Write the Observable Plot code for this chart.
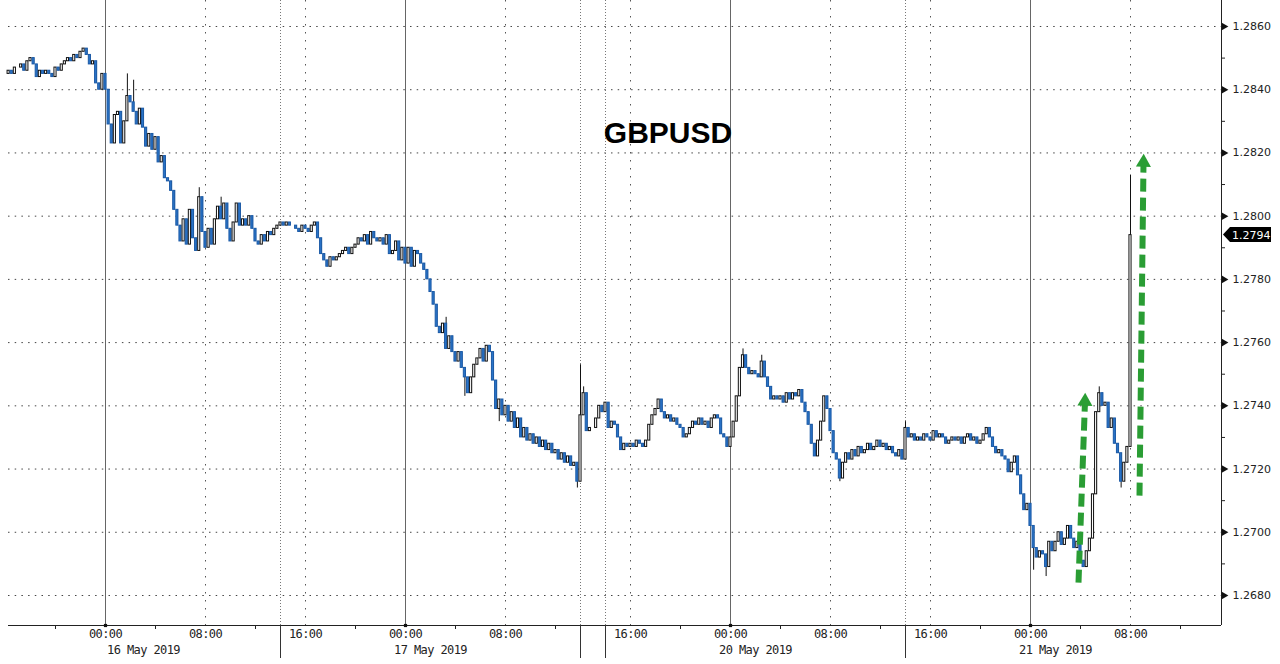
<!DOCTYPE html>
<html><head><meta charset="utf-8">
<script src="https://cdn.jsdelivr.net/npm/d3@7"></script>
<script src="https://cdn.jsdelivr.net/npm/@observablehq/plot@0.6"></script>
<style>
html,body{margin:0;padding:0;background:#fff;overflow:hidden;}
#chart svg g[font-family="DejaVu Sans Mono"] text{letter-spacing:-0.6px;}
</style></head><body><div id="chart"></div>
<script>
// ---- data (compressed trading-hour axis: 0 = 16 May 2019 00:00, weekend removed) ----
const title = "GBPUSD";
const firstBarHour = -7.75;   // first 15-minute bar
const barHours = 0.25;        // 15-minute bars
const firstOpen = 1.2845;
const closes = [
  1.2846, 1.2845, 1.2847,
  1.2847, 1.2848, 1.2846, 1.2849,
  1.2850, 1.2848, 1.2844, 1.2846,
  1.2845, 1.2846, 1.2845, 1.2844,
  1.2847, 1.2846, 1.2848, 1.2849,
  1.2850, 1.2849, 1.2851, 1.2850,
  1.2852, 1.2853, 1.2851, 1.2848,
  1.2849, 1.2842, 1.2840, 1.2845,
  1.2840, 1.2829, 1.2823, 1.2832,
  1.2833, 1.2823, 1.2830, 1.2838,
  1.2836, 1.2833, 1.2829, 1.2834,
  1.2828, 1.2822, 1.2826, 1.2821,
  1.2825, 1.2817, 1.2819, 1.2812,
  1.2811, 1.2808, 1.2802, 1.2797,
  1.2792, 1.2799, 1.2791, 1.2802,
  1.2793, 1.2789, 1.2806, 1.2795,
  1.2790, 1.2796, 1.2791, 1.2799,
  1.2803, 1.2799, 1.2804, 1.2796,
  1.2792, 1.2798, 1.2804, 1.2797,
  1.2799, 1.2797, 1.2800, 1.2796,
  1.2792, 1.2791, 1.2794, 1.2792,
  1.2795, 1.2794, 1.2796, 1.2797,
  1.2798, 1.2797, 1.2798, 1.2797,
  1.2797, 1.2796, 1.2795, 1.2797,
  1.2796, 1.2795, 1.2797, 1.2798,
  1.2793, 1.2788, 1.2786, 1.2784,
  1.2787, 1.2786, 1.2787, 1.2788,
  1.2789, 1.2790, 1.2788, 1.2790,
  1.2791, 1.2793, 1.2792, 1.2794,
  1.2791, 1.2795, 1.2793, 1.2792,
  1.2793, 1.2791, 1.2794, 1.2788,
  1.2789, 1.2792, 1.2786, 1.2790,
  1.2785, 1.2790, 1.2784, 1.2789,
  1.2788, 1.2785, 1.2783, 1.2780,
  1.2776, 1.2772, 1.2765, 1.2763,
  1.2766, 1.2758, 1.2762, 1.2757,
  1.2754, 1.2757, 1.2752, 1.2749,
  1.2744, 1.2749, 1.2753, 1.2755,
  1.2758, 1.2754, 1.2759, 1.2757,
  1.2748, 1.2739, 1.2742, 1.2737,
  1.2740, 1.2735, 1.2738, 1.2733,
  1.2736, 1.2730, 1.2733, 1.2729,
  1.2731, 1.2728, 1.2730, 1.2727,
  1.2729, 1.2726, 1.2728, 1.2725,
  1.2726, 1.2723, 1.2725, 1.2722,
  1.2724, 1.2721, 1.2722, 1.2716,
  1.2737, 1.2744, 1.2732, 1.2733,
  1.2733, 1.2736, 1.2740, 1.2738,
  1.2741, 1.2733, 1.2735, 1.2734,
  1.2730, 1.2726, 1.2728, 1.2727,
  1.2728, 1.2727, 1.2729, 1.2728,
  1.2727, 1.2729, 1.2734, 1.2737,
  1.2739, 1.2742, 1.2738, 1.2736,
  1.2737, 1.2735, 1.2736, 1.2734,
  1.2733, 1.2730, 1.2731, 1.2733,
  1.2735, 1.2734, 1.2736, 1.2734,
  1.2735, 1.2733, 1.2736, 1.2737,
  1.2736, 1.2731, 1.2730, 1.2727,
  1.2730, 1.2735, 1.2743, 1.2752,
  1.2756, 1.2752, 1.2750, 1.2751,
  1.2750, 1.2749, 1.2754, 1.2749,
  1.2746, 1.2742, 1.2743, 1.2742,
  1.2743, 1.2741, 1.2744, 1.2742,
  1.2744, 1.2743, 1.2745, 1.2741,
  1.2738, 1.2734, 1.2728, 1.2724,
  1.2729, 1.2735, 1.2743, 1.2739,
  1.2732, 1.2725, 1.2723, 1.2717,
  1.2722, 1.2725, 1.2723, 1.2726,
  1.2724, 1.2727, 1.2725, 1.2726,
  1.2728, 1.2726, 1.2727, 1.2729,
  1.2727, 1.2728, 1.2726, 1.2727,
  1.2725, 1.2724, 1.2726, 1.2723,
  1.2733, 1.2730, 1.2731, 1.2729,
  1.2730, 1.2729, 1.2731, 1.2730,
  1.2729, 1.2732, 1.2730, 1.2731,
  1.2730, 1.2728, 1.2729, 1.2730,
  1.2729, 1.2730, 1.2728, 1.2730,
  1.2731, 1.2729, 1.2730, 1.2728,
  1.2729, 1.2731, 1.2733, 1.2730,
  1.2727, 1.2725, 1.2726, 1.2724,
  1.2723, 1.2719, 1.2722, 1.2724,
  1.2718, 1.2712, 1.2707, 1.2709,
  1.2702, 1.2695, 1.2692, 1.2694,
  1.2693, 1.2689, 1.2697, 1.2694,
  1.2697, 1.2700, 1.2696, 1.2698,
  1.2702, 1.2698, 1.2695, 1.2697,
  1.2691, 1.2689, 1.2694, 1.2698,
  1.2712, 1.2738, 1.2744, 1.2740,
  1.2741, 1.2733, 1.2736, 1.2728,
  1.2725, 1.2716, 1.2722, 1.2727,
  1.2794
];
const spikeHours  = [1.75, 2.25, 7.5, 9.25, 27.25, 28.75, 31.5, 37.75, 38, 38.25, 51, 52.5, 58.75, 64, 74.25, 75.25, 79.5, 81.25, 82];
const spikeValues = [1.2845, 1.2843, 1.2809, 1.2806, 1.2768, 1.2743, 1.2735, 1.2714, 1.2753, 1.2746, 1.2758, 1.2756, 1.2716, 1.2735, 1.2688, 1.2686, 1.2746, 1.2714, 1.2813];

const priceTicks = [1.2680, 1.2700, 1.2720, 1.2740, 1.2760, 1.2780, 1.2800, 1.2820, 1.2840, 1.2860];
const priceMinorTicks = [1.2690, 1.2710, 1.2730, 1.2750, 1.2770, 1.2790, 1.2810, 1.2830, 1.2850];
const hourTicks = [0, 8, 16, 24, 32, 42, 50, 58, 66, 74, 82];
const hourTickLabels = ["00:00", "08:00", "16:00", "00:00", "08:00", "16:00", "00:00", "08:00", "16:00", "00:00", "08:00"];
const dayHours = [0, 24, 50, 74];
const dayLabels = ["16 May 2019", "17 May 2019", "20 May 2019", "21 May 2019"];
const minorHourTicks = [-4, 4, 12, 20, 28, 36, 46, 54, 62, 70, 78, 86];
const sessionBreakHours = [14, 38, 40, 64];

const arrowFromHour  = [77.84, 82.72];
const arrowFromPrice = [1.26841, 1.27116];
const arrowToHour    = [78.36, 83.04];
const arrowToPrice   = [1.27414, 1.28170];

// ---- build tables ----
const bars = closes.map((c, i) => {
  const h = firstBarHour + i * barHours;
  const o = i === 0 ? firstOpen : closes[i - 1];
  let hi = Math.max(o, c), lo = Math.min(o, c);
  const k = spikeHours.indexOf(h);
  if (k >= 0) { hi = Math.max(hi, spikeValues[k]); lo = Math.min(lo, spikeValues[k]); }
  return {h, o, c, hi, lo, up: c >= o};
});
const lastPrice = closes[closes.length - 1];
const hourTickData = hourTicks.map((h, i) => ({h, label: hourTickLabels[i]}));
const dayData = dayHours.map((h, i) => ({h, label: dayLabels[i]}));
const arrows = arrowFromHour.map((h, i) => ({x1: h, y1: arrowFromPrice[i], x2: arrowToHour[i], y2: arrowToPrice[i]}));

const X0 = -7.76, X1 = 89.28, Y0 = 1.267051, Y1 = 1.286822;
const blue = "#2a74c8", blueEdge = "#1b5aa6", green = "#2a9d34";

const chart = Plot.plot({
  width: 1280, height: 664,
  marginLeft: 8, marginRight: 59, marginTop: 0, marginBottom: 39,
  x: {type: "linear", domain: [X0, X1], axis: null},
  y: {type: "linear", domain: [Y0, Y1], axis: null},
  style: {background: "#fff", fontFamily: "DejaVu Sans", fontSize: "11px", color: "#222", overflow: "visible"},
  marks: [
    // grid
    Plot.ruleY(priceTicks, {stroke: "#444", strokeDasharray: "1.5,5.2"}),
    Plot.ruleX(hourTicks.filter(h => !dayHours.includes(h)), {stroke: "#555", strokeDasharray: "1.5,6.5"}),
    Plot.ruleX(sessionBreakHours, {stroke: "#777", strokeDasharray: "1,2"}),
    Plot.ruleX(dayHours, {stroke: "#666"}),
    // candles
    Plot.ruleX(bars, {x: "h", y1: "lo", y2: "hi", stroke: "#111", strokeWidth: 1}),
    Plot.rect(bars, {
      x1: d => d.h - 0.085, x2: d => d.h + 0.085,
      y1: d => Math.min(d.o, d.c), y2: d => Math.max(d.o, d.c),
      fill: d => d.up ? "#ffffff" : blue,
      stroke: d => d.up ? "#111111" : blueEdge,
      strokeWidth: 1
    }),
    // axes lines
    Plot.ruleY([Y0], {stroke: "#222"}),
    Plot.ruleX([X1], {stroke: "#222"}),
    // bottom axis ticks
    Plot.ruleX(minorHourTicks, {insetTop: 625, insetBottom: -4, stroke: "#222"}),
    Plot.ruleX(sessionBreakHours, {insetTop: 625, insetBottom: -33, stroke: "#333"}),
    Plot.dot(dayHours, {x: d => d, frameAnchor: "bottom", symbol: "square", r: 1.8, fill: "#111"}),
    Plot.text(hourTickData, {x: "h", text: "label", frameAnchor: "bottom", dy: 12, fontFamily: "DejaVu Sans Mono", fontSize: 12, fill: "#222"}),
    Plot.text(dayData.slice(0, 1), {x: "h", text: "label", frameAnchor: "bottom", dx: 38, dy: 28, fontFamily: "DejaVu Sans Mono", fontSize: 12, fill: "#222"}),
    Plot.text(dayData.slice(1), {x: "h", text: "label", frameAnchor: "bottom", dx: 25, dy: 28, fontFamily: "DejaVu Sans Mono", fontSize: 12, fill: "#222"}),
    // right axis
    Plot.ruleY(priceMinorTicks, {x1: X1, x2: X1 + 0.32, stroke: "#222"}),
    Plot.dot(priceTicks, {y: d => d, frameAnchor: "right", symbol: "triangle", rotate: 90, r: 2.8, fill: "#111", dx: 2.5}),
    Plot.text(priceTicks, {y: d => d, text: d => d.toFixed(4), frameAnchor: "right", textAnchor: "start", dx: 11, fill: "#222", fontSize: 11}),
    // last price tag
    (index, scales, values, dims) => {
      const y = scales.y(lastPrice);
      const x0 = dims.width - dims.marginRight;
      const g = d3.create("svg:g");
      g.append("path")
        .attr("d", `M${x0 + 2},${y} L${x0 + 9},${y - 7.5} L${x0 + 50},${y - 7.5} L${x0 + 50},${y + 7.5} L${x0 + 9},${y + 7.5} Z`)
        .attr("fill", "#000");
      g.append("text").attr("x", x0 + 11).attr("y", y).attr("dy", "0.36em")
        .attr("text-anchor", "start")
        .attr("fill", "#fff").attr("font-family", "DejaVu Sans").attr("font-size", 11)
        .text(lastPrice.toFixed(4));
      return g.node();
    },
    // annotations
    Plot.link(arrows, {x1: "x1", y1: "y1", x2: "x2", y2: "y2", stroke: green, strokeWidth: 6, strokeDasharray: "13,6"}),
    Plot.dot(arrows, {x: "x2", y: "y2", symbol: "triangle", r: 5.6, fill: green, rotate: 1.2}),
    Plot.text([title], {frameAnchor: "top", dx: 53, dy: 121, fontSize: 30, fontWeight: "bold", fontFamily: "Liberation Sans", fill: "#000"})
  ]
});
document.getElementById("chart").appendChild(chart);
</script></body></html>
